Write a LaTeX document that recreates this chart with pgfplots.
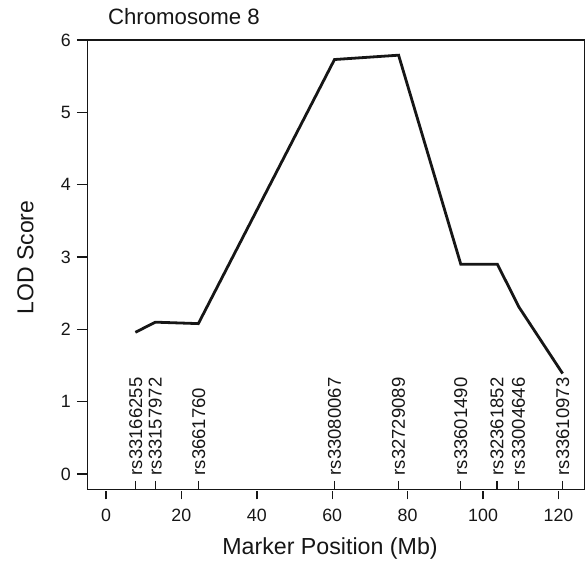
\documentclass[border=0pt]{standalone}
\usepackage{pgfplots}
\pgfplotsset{compat=1.18}
\usepackage{fontspec}
\setmainfont{Liberation Sans}
\definecolor{ink}{HTML}{161616}
\begin{document}
\begin{tikzpicture}
\begin{axis}[
  scale only axis, width=497bp, height=449.3bp,
  xmin=-4.9, xmax=126.9, ymin=-0.21, ymax=6,
  axis line style={line width=1.5bp, ink},
  xtick={0,20,...,120}, ytick={0,1,...,6},
  xtick pos=bottom, ytick pos=left,
  tick align=outside,
  major tick length=10.5bp,
  tick style={line width=1.4bp, ink},
  xtick style={/pgfplots/major tick length=8.6bp, yshift=-1.4bp},
  /pgf/number format/assume math mode=true,
  tick label style={font=\fontsize{17.8bp}{20bp}\selectfont, text=ink},
  yticklabel style={inner sep=0pt, xshift=-6bp},
  xticklabel style={inner sep=0pt, yshift=-9bp},
  every axis title/.style={at={(axis description cs:0.041,1.0334)}, anchor=base west, inner sep=0pt, font=\fontsize{22.2bp}{26bp}\selectfont, text=ink},
  every axis x label/.style={at={(axis description cs:0.488,-0.1462)}, anchor=base, inner sep=0pt, font=\fontsize{23.2bp}{26bp}\selectfont, text=ink},
  every axis y label/.style={at={(axis description cs:-0.109,0.516)}, rotate=90, anchor=base, inner sep=0pt, font=\fontsize{23bp}{26bp}\selectfont, text=ink},
  title={Chromosome 8},
  xlabel={Marker Position (Mb)},
  ylabel={LOD Score},
  clip=false,
]
% LOD curve
\addplot[ink, line width=2.8bp, line join=miter, mark=none] coordinates {
  (7.8,1.96) (13.1,2.10) (24.5,2.08) (60.6,5.73) (77.6,5.79)
  (94.1,2.90) (103.8,2.90) (109.5,2.31) (121.1,1.39)
};
% marker ticks
\addplot[only marks, mark=|, mark size=4.2bp, mark options={line width=1.2bp, ink}] coordinates {
  (7.9,-0.152) (13.1,-0.152) (24.6,-0.152) (60.6,-0.152) (77.6,-0.152)
  (94.1,-0.152) (103.7,-0.152) (109.4,-0.152) (121.1,-0.152)
};
% marker labels
\addplot[draw=none, mark=none, nodes near coords, point meta=explicit symbolic,
  nodes near coords style={rotate=90, anchor=west, inner sep=0pt, font=\fontsize{18.5bp}{20bp}\selectfont, text=ink}]
  table[meta=lab] {
x y lab
7.9 -0.02 rs33166255
13.1 -0.02 rs33157972
24.6 -0.02 rs3661760
60.6 -0.02 rs33080067
77.6 -0.02 rs32729089
94.1 -0.02 rs33601490
103.7 -0.02 rs32361852
109.4 -0.02 rs33004646
121.1 -0.02 rs33610973
};
\end{axis}
\path ([xshift=-87.5bp,yshift=-77.7bp]current axis.south west) rectangle ([xshift=1.5bp,yshift=40bp]current axis.north east);
\end{tikzpicture}
\end{document}
